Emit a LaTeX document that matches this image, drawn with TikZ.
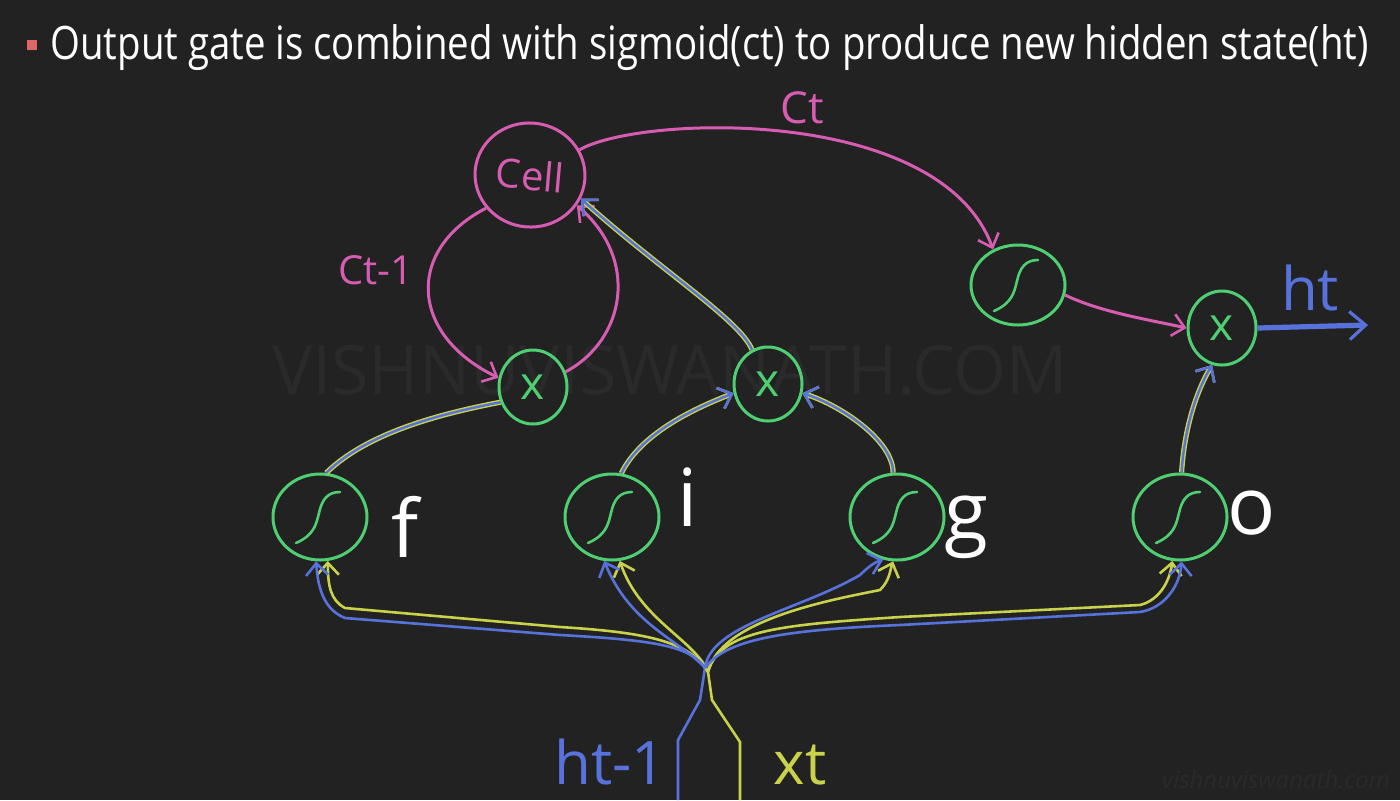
\documentclass[tikz,border=0pt]{standalone}
\usepackage{fontspec}
\setmainfont{Open Sans}
\usetikzlibrary{shapes.geometric,arrows.meta}
\definecolor{bg}{HTML}{222222}
\definecolor{pk}{HTML}{D65DB1}
\definecolor{gn}{HTML}{4FCF72}
\definecolor{bl}{HTML}{5872DC}
\definecolor{yl}{HTML}{C8D24A}
\definecolor{wm}{HTML}{2A2A2A}
\definecolor{rd}{HTML}{E06666}
\tikzset{
  gate/.style={draw=gn, line width=1.5pt, ellipse, minimum width=47pt, minimum height=43pt, inner sep=0pt},
  mult/.style={draw=gn, line width=1.5pt, ellipse, minimum width=34pt, minimum height=37pt, inner sep=0pt, text=gn, font=\fontsize{23}{23}\selectfont},
  cellnode/.style={draw=pk, line width=1.5pt, ellipse, minimum width=55pt, minimum height=52pt, inner sep=0pt, text=pk, font=\fontsize{20}{20}\selectfont},
  tip/.style={-{Straight Barb[length=6pt,width=11pt,line width=1.3pt]}},
  pkline/.style={draw=pk, line width=1.5pt},
  dual/.style={draw=bl, line width=1.2pt, preaction={draw=yl, line width=2.6pt}},
  bline/.style={draw=bl, line width=1.3pt},
  yline/.style={draw=yl, line width=1.3pt},
  lbl/.style={inner sep=0pt, font=\fontsize{40}{40}\selectfont, text=white},
  sig/.style={draw=gn, line width=1.3pt, line cap=round}
}
\begin{document}
\begin{tikzpicture}[x=0.5pt,y=-0.5pt]
\fill[bg] (0,0) rectangle (1400,800);
\useasboundingbox (0,0) rectangle (1400,800);
% watermarks
\node[text=wm, font=\fontsize{34}{34}\selectfont, inner sep=0pt] (wm1) at (670,370) {VISHNUVISWANATH.COM};
\node[text=wm, font=\fontsize{12}{12}\selectfont\itshape, inner sep=0pt] (wm2) at (1276,780) {vishnuviswanath.com};
% title
\fill[rd] (27,40) rectangle (37,50);
\node[anchor=base west, text=white, inner sep=0pt, font=\fontsize{23}{24}\selectfont] (title) at (50,59) {\scalebox{0.835}[1]{Output gate is combined with sigmoid(ct) to produce new hidden state(ht)}};
% nodes
\node[cellnode, rotate=-5] (cell) at (530,175) {Cell};
\node[mult] (fx) at (533,387) {x};
\node[mult] (ix) at (768,384) {x};
\node[gate, minimum width=47pt, minimum height=40pt] (sg) at (1018,285) {};
\node[mult] (ox) at (1222,328) {x};
\node[gate] (fg) at (320,517) {};
\node[gate] (ig) at (612,517) {};
\node[gate] (gg) at (897,517) {};
\node[gate] (og) at (1180,517) {};
% sigmoid glyphs
\foreach \n in {fg,ig,gg,og,sg}{
  \draw[sig] ([shift={(-24,26)}]\n.center) .. controls ([shift={(-6,18)}]\n.center) and ([shift={(-4,8)}]\n.center) .. ([shift={(-1,-4)}]\n.center)
     .. controls ([shift={(2,-18)}]\n.center) and ([shift={(8,-25)}]\n.center) .. ([shift={(20,-25)}]\n.center);
}
% labels
\node[lbl] (lf) at (405,527) {f};
\node[lbl] (li) at (688,497) {i};
\node[lbl] (lgg) at (966,527) {g};
\node[lbl] (lo) at (1252,513) {o};
\node[inner sep=0pt, text=pk, font=\fontsize{20}{20}\selectfont] (lct1) at (376,270) {Ct-1};
\node[inner sep=0pt, text=pk, font=\fontsize{22}{22}\selectfont] (lct) at (802,108) {Ct};
\node[inner sep=0pt, text=bl, font=\fontsize{30}{30}\selectfont] (lht) at (1310,288) {ht};
\node[inner sep=0pt, text=bl, font=\fontsize{30}{30}\selectfont] (lht1) at (610,762) {ht-1};
\node[inner sep=0pt, text=yl, font=\fontsize{30}{30}\selectfont] (lxt) at (800,765) {xt};
% coordinates
\coordinate (hb) at (678,800);
\coordinate (hm) at (678,740);
\coordinate (hj) at (705,668);
\coordinate (xb) at (740,800);
\coordinate (xm) at (740,742);
\coordinate (xj) at (708,672);
\coordinate (hout) at (1368,325);
% pink connectors
\draw[pkline,tip] (cell.222) .. controls (405,250) and (410,335) .. (fx.165);
\draw[pkline,tip] (fx.25) .. controls (625,340) and (640,260) .. (cell.-28);
\draw[pkline,tip] (cell.32) .. controls (640,115) and (940,105) .. (sg.125);
\draw[pkline,tip] (sg.-12) .. controls (1100,312) and (1150,320) .. (ox.west);
\draw[draw=bl, line width=2.6pt, -{Straight Barb[length=8pt,width=14pt,line width=1.6pt]}] (ox.east) -- (hout);
% dual connectors
\draw[dual,tip] (ix.115) .. controls (740,320) and (660,270) .. (cell.-20);
\draw[dual,tip] (og.88) .. controls (1185,420) and (1200,385) .. (ox.-105);
\draw[dual] (fg.82) .. controls (370,430) and (450,412) .. (fx.205);
\draw[dual,tip] (ig.78) .. controls (640,435) and (690,410) .. (ix.195);
\draw[dual,tip] (gg.95) .. controls (893,440) and (840,405) .. (ix.-15);
% input trunks
\draw[bline] (hb) -- (hm) -- (700,700) -- (hj);
\draw[yline] (xb) -- (xm) -- (712,700) -- (xj);
% yellow fans
\draw[yline,tip] (xj) .. controls (690,640) and (640,632) .. (560,627) -- (345,608) .. controls (330,600) and (328,585) .. (fg.-80);
\draw[yline,tip] (xj) .. controls (695,640) and (640,620) .. (ig.-80);
\draw[yline,tip] (xj) .. controls (720,620) and (830,600) .. (880,590) .. controls (890,580) and (890,570) .. (gg.-95);
\draw[yline,tip] (xj) .. controls (720,630) and (780,625) .. (900,617) -- (1140,605) .. controls (1160,600) and (1170,580) .. (og.-100);
% blue fans
\draw[bline,tip] (hj) .. controls (690,645) and (650,640) .. (560,635) -- (345,618) .. controls (325,610) and (318,590) .. (fg.-95);
\draw[bline,tip] (hj) .. controls (680,640) and (630,625) .. (ig.-100);
\draw[bline,tip] (hj) .. controls (710,625) and (800,610) .. (860,575) .. controls (868,567) and (875,562) .. (gg.-108);
\draw[bline,tip] (hj) .. controls (725,640) and (780,630) .. (900,625) -- (1140,612) .. controls (1165,608) and (1180,585) .. (og.-88);
\end{tikzpicture}
\end{document}
